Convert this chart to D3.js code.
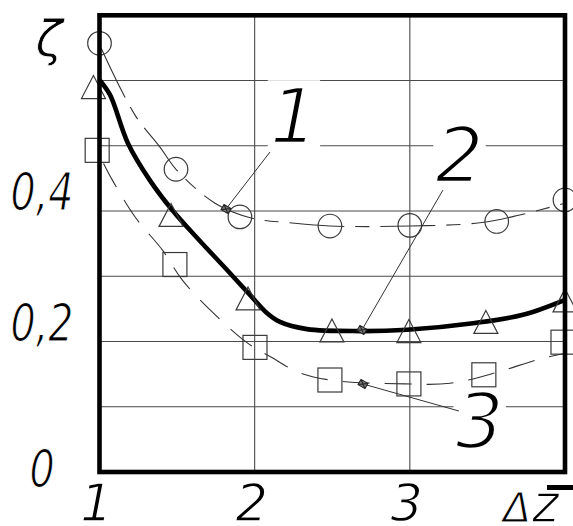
<!DOCTYPE html>
<html>
<head>
<meta charset="utf-8">
<script src="https://cdn.jsdelivr.net/npm/d3@7"></script>
<style>
  html, body { margin: 0; padding: 0; background: #fff; }
  svg { display: block; }
  .t { font-family: "DejaVu Sans", "Liberation Sans", sans-serif; font-style: oblique; fill: #000; stroke: #fff; paint-order: fill stroke; }
</style>
</head>
<body>
<svg id="chart" width="573" height="526"></svg>
<script>
// Measured points, series 1 (circles), 2 (triangles), 3 (squares)
const circleX   = [1.0, 1.493, 1.905, 2.485, 3.0, 3.560, 4.0];
const circleY   = [0.657, 0.464, 0.391, 0.377, 0.378, 0.384, 0.417];
const triangleX = [0.961, 1.461, 1.957, 2.498, 2.994, 3.490, 4.0];
const triangleY = [0.590, 0.394, 0.266, 0.217, 0.216, 0.230, 0.263];
const squareX   = [0.985, 1.486, 2.002, 2.485, 2.994, 3.477, 3.987];
const squareY   = [0.493, 0.318, 0.191, 0.141, 0.135, 0.149, 0.199];

// Approximating curves through each series
const curve1X = [1.010, 1.229, 1.390, 1.493, 1.744, 1.983, 2.227, 2.485, 3.0, 3.451, 3.709, 4.0];
const curve1Y = [0.650, 0.547, 0.498, 0.464, 0.412, 0.389, 0.382, 0.377, 0.377, 0.382, 0.394, 0.412];
const curve2X = [1.0, 1.068, 1.183, 1.325, 1.474, 1.640, 1.809, 1.983, 2.073, 2.163, 2.337, 2.679, 2.982, 3.407, 3.729, 4.0];
const curve2Y = [0.601, 0.578, 0.504, 0.447, 0.400, 0.356, 0.313, 0.268, 0.245, 0.230, 0.219, 0.216, 0.218, 0.228, 0.241, 0.264];
const curve3X = [1.026, 1.084, 1.232, 1.406, 1.534, 1.728, 1.946, 2.114, 2.281, 2.485, 2.970, 3.260, 3.550, 3.820, 4.0];
const curve3Y = [0.473, 0.447, 0.390, 0.340, 0.294, 0.245, 0.199, 0.175, 0.153, 0.141, 0.135, 0.136, 0.152, 0.172, 0.182];

// Axis ticks and labels
const xTicks = [1, 2, 3];
const xTickLabels = ["1", "2", "3"];
const yTicks = [0, 0.2, 0.4];
const yTickLabels = ["0", "0,2", "0,4"];
const xGrid = [2, 3];
const yGrid = [0.1, 0.2, 0.3, 0.4, 0.5, 0.6];

// Curve numbers with leader lines: label point and leader start/end
const noteText = ["1", "2", "3"];
const noteX = [2.253, 3.320, 3.450];
const noteY = [0.504, 0.4445, 0.0368];
const leaderFromX = [2.099, 3.213, 3.316];
const leaderFromY = [0.4905, 0.432, 0.0935];
const leaderToX = [1.815, 2.691, 2.698];
const leaderToY = [0.403, 0.2177, 0.1349];

const svg = d3.select("#chart");
const x = d3.scaleLinear().domain([1, 4]).range([99.5, 565]);
const y = d3.scaleLinear().domain([0, 0.7]).range([472, 15.3]);

// Thin drafting-style lettering: a white outline trims the glyph strokes,
// an optional horizontal squeeze narrows them.
function label(parent, str, px, py, size, opts = {}) {
  const g = parent.append("g")
    .attr("transform", `translate(${px},${py}) scale(${opts.sx || 1},1)`);
  return g.append("text").attr("class", "t")
    .attr("font-size", size)
    .attr("text-anchor", opts.anchor || "middle")
    .attr("stroke-width", opts.trim || 0)
    .text(str);
}

// grid
const grid = svg.append("g").attr("stroke", "#4a4a4a").attr("stroke-width", 1.1);
grid.selectAll(".gx").data(xGrid).join("line")
  .attr("x1", d => x(d)).attr("x2", d => x(d))
  .attr("y1", y(0)).attr("y2", y(0.7));
grid.selectAll(".gy").data(yGrid).join("line")
  .attr("x1", x(1)).attr("x2", x(4))
  .attr("y1", d => y(d)).attr("y2", d => y(d));

// curve numbers sit on white patches that interrupt the grid
const noteGroup = svg.append("g");

const zip = (a, b) => a.map((v, i) => [v, b[i]]);

// curves
const line = d3.line().x(d => x(d[0])).y(d => y(d[1])).curve(d3.curveCatmullRom.alpha(0.5));
svg.append("path").datum(zip(curve1X, curve1Y))
  .attr("d", line).attr("fill", "none").attr("stroke", "#333")
  .attr("stroke-width", 1.1).attr("stroke-dasharray", "55,11,14,11");
svg.append("path").datum(zip(curve3X, curve3Y))
  .attr("d", line).attr("fill", "none").attr("stroke", "#333")
  .attr("stroke-width", 1.1).attr("stroke-dasharray", "27,15");
svg.append("path").datum(zip(curve2X, curve2Y))
  .attr("d", line).attr("fill", "none").attr("stroke", "#000")
  .attr("stroke-width", 4.6).attr("stroke-linejoin", "round");

// markers
const mk = svg.append("g").attr("fill", "none").attr("stroke", "#3a3a3a").attr("stroke-width", 1.2);
mk.selectAll(".c").data(zip(circleX, circleY)).join("circle")
  .attr("cx", d => x(d[0])).attr("cy", d => y(d[1])).attr("r", 11.8);
mk.selectAll(".tr").data(zip(triangleX, triangleY)).join("path")
  .attr("transform", d => `translate(${x(d[0])},${y(d[1])})`)
  .attr("d", "M0,-11.5L12,11.5L-12,11.5Z");
mk.selectAll(".sq").data(zip(squareX, squareY)).join("rect")
  .attr("x", d => x(d[0]) - 12).attr("y", d => y(d[1]) - 12)
  .attr("width", 24).attr("height", 24);

// frame
svg.append("rect")
  .attr("x", x(1)).attr("y", y(0.7))
  .attr("width", x(4) - x(1)).attr("height", y(0) - y(0.7))
  .attr("fill", "none").attr("stroke", "#000").attr("stroke-width", 4.6);

// leaders
const lead = svg.append("g");
noteText.forEach((t, i) => {
  lead.append("line")
    .attr("x1", x(leaderFromX[i])).attr("y1", y(leaderFromY[i]))
    .attr("x2", x(leaderToX[i])).attr("y2", y(leaderToY[i]))
    .attr("stroke", "#333").attr("stroke-width", 1);
  lead.append("path")
    .attr("transform", `translate(${x(leaderToX[i])},${y(leaderToY[i])}) rotate(30)`)
    .attr("d", "M-4,-3L4,-3L4,3L-4,3Z M-4,-3L4,3 M4,-3L-4,3")
    .attr("fill", "#777").attr("stroke", "#222").attr("stroke-width", 1);
});

// curve numbers
noteText.forEach((t, i) => {
  const tx = label(noteGroup, t, x(noteX[i]), y(noteY[i]), 76, { trim: 2.6 });
  const b = tx.node().getBBox();
  const px = x(noteX[i]), py = y(noteY[i]);
  noteGroup.insert("rect", "g")
    .attr("x", px + b.x - 2).attr("y", py + b.y + 8)
    .attr("width", b.width + 4).attr("height", b.height - 10)
    .attr("fill", "#fff");
});

// tick labels
const tl = svg.append("g");
xTicks.forEach((d, i) => label(tl, xTickLabels[i], x(d) - 3, 521, 51, { trim: 1.3 }));
yTicks.forEach((d, i) => label(tl, yTickLabels[i], 42, d === 0 ? 487 : y(d) - 1, 52, { trim: 1.2, sx: 0.76 }));

// axis titles
label(svg, "ζ", 49, 56, 50, { trim: 0.8 });
label(svg, "Δ", 503, 522, 41, { anchor: "start", trim: 1 });
label(svg, "z", 532, 522, 54, { anchor: "start", trim: 1.6, sx: 0.95 });
svg.append("rect").attr("x", 547).attr("y", 485).attr("width", 30).attr("height", 5).attr("fill", "#000");
</script>
</body>
</html>
